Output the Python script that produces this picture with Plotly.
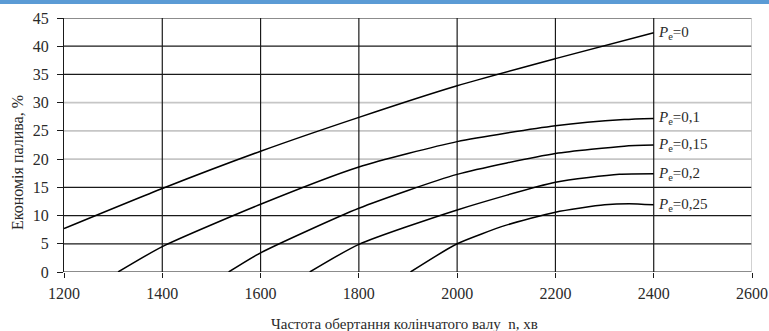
import plotly.graph_objects as go

# Data
n_pe0 = [1200, 1400, 1600, 1800, 2000, 2200, 2400]
e_pe0 = [7.7, 14.8, 21.4, 27.4, 33.0, 37.8, 42.4]

n_pe01 = [1310, 1400, 1600, 1800, 2000, 2200, 2340, 2400]
e_pe01 = [0.0, 4.5, 12.0, 18.6, 23.1, 25.9, 27.0, 27.2]

n_pe015 = [1535, 1600, 1800, 2000, 2200, 2340, 2400]
e_pe015 = [0.0, 3.4, 11.3, 17.3, 21.0, 22.3, 22.5]

n_pe02 = [1700, 1800, 2000, 2200, 2330, 2400]
e_pe02 = [0.0, 4.9, 11.0, 15.9, 17.3, 17.4]

n_pe025 = [1905, 2000, 2100, 2200, 2300, 2350, 2400]
e_pe025 = [0.0, 5.0, 8.3, 10.6, 11.9, 12.1, 11.9]

series_labels = ["0", "0,1", "0,15", "0,2", "0,25"]
series = [(n_pe0, e_pe0), (n_pe01, e_pe01), (n_pe015, e_pe015),
          (n_pe02, e_pe02), (n_pe025, e_pe025)]

x_ticks = [1200, 1400, 1600, 1800, 2000, 2200, 2400, 2600]
y_ticks = [0, 5, 10, 15, 20, 25, 30, 35, 40, 45]
light_y = [20, 25, 30]
light_x = [2600]

FONT = "Liberation Serif"
W, H = 769, 331
ML, MR, MT, MB = 64, 17, 18, 59
PW, PH = W - ML - MR, H - MT - MB
DARK = "#1a1a1a"
LIGHT = "#c6c6c6"
TXT = "#2a2a2a"

shapes = []
# gridlines (drawn as shapes so some can be lighter)
for yv in y_ticks:
    light = yv in light_y
    shapes.append(dict(type="line", xref="paper", x0=0, x1=1, yref="y", y0=yv, y1=yv,
                       line=dict(color=LIGHT if light else DARK, width=1.6 if light else 1.2),
                       layer="below"))
for xv in x_ticks[1:]:
    light = xv in light_x
    shapes.append(dict(type="line", yref="paper", y0=0, y1=1, xref="x", x0=xv, x1=xv,
                       line=dict(color=LIGHT if light else DARK, width=1.6 if light else 1.2),
                       layer="below"))
# thin blue strip along the top of the picture
shapes.append(dict(type="rect", xref="paper", yref="paper", x0=-ML / PW, x1=1 + MR / PW,
                   y0=1 + (MT - 4) / PH, y1=1 + (MT + 5) / PH, fillcolor="#5b9bd5",
                   line=dict(width=0), layer="above"))

fig = go.Figure()
for (xs, ys), lab in zip(series, series_labels):
    fig.add_trace(go.Scatter(x=xs, y=ys, mode="lines",
                             line=dict(color="black", width=1.5, shape="spline", smoothing=0.6),
                             showlegend=False, hoverinfo="skip"))

annotations = []
for (xs, ys), lab in zip(series, series_labels):
    annotations.append(dict(x=xs[-1], y=ys[-1], xref="x", yref="y",
                            text="<i>P</i><sub>e</sub>=" + lab, showarrow=False,
                            xanchor="left", yanchor="middle", xshift=2,
                            font=dict(family=FONT, size=15, color=TXT)))
annotations.append(dict(xref="paper", yref="paper",
                        x=(404 - ML) / PW, y=-(324 - (H - MB)) / PH,
                        text="Частота обертання колінчатого валу  n, хв", showarrow=False,
                        xanchor="center", yanchor="middle",
                        font=dict(family=FONT, size=15, color=TXT)))
annotations.append(dict(xref="paper", yref="paper",
                        x=-(ML - 17) / PW, y=(H - MB - 163) / PH,
                        text="Економія палива, %", showarrow=False, textangle=-90,
                        xanchor="center", yanchor="middle",
                        font=dict(family=FONT, size=16, color=TXT)))

fig.update_layout(
    width=W, height=H,
    margin=dict(l=ML, r=MR, t=MT, b=MB, autoexpand=False),
    paper_bgcolor="white", plot_bgcolor="white",
    font=dict(family=FONT, size=15, color=TXT),
    shapes=shapes, annotations=annotations,
    xaxis=dict(range=[1200, 2600], tickvals=x_ticks, showgrid=False, automargin=False,
               zeroline=False, ticks="outside", ticklen=5, tickcolor=DARK,
               showline=False, ticklabelstandoff=2,
               tickfont=dict(family=FONT, size=16, color=TXT)),
    yaxis=dict(range=[0, 45], tickvals=y_ticks, showgrid=False, automargin=False,
               zeroline=False, ticks="outside", ticklen=6, tickcolor=DARK,
               showline=True, linecolor=DARK, linewidth=1.2, ticklabelstandoff=5,
               tickfont=dict(family=FONT, size=16, color=TXT)),
)

fig.write_html("out.html", config={"displayModeBar": False},
               post_script="document.body.style.margin='0';document.body.style.overflow='hidden';")
